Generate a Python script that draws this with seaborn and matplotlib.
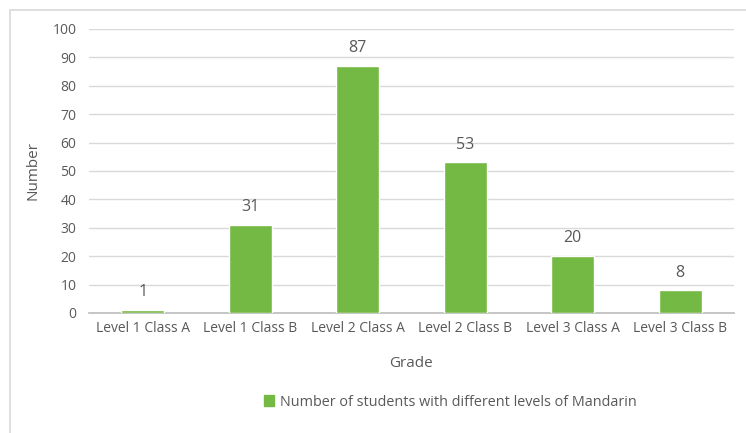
import matplotlib
matplotlib.use("Agg")
import matplotlib.pyplot as plt
import matplotlib.patches as mpatches
import seaborn as sns
import pandas as pd
import numpy as np

grades = ["Level 1 Class A", "Level 1 Class B", "Level 2 Class A",
          "Level 2 Class B", "Level 3 Class A", "Level 3 Class B"]
counts = [1, 31, 87, 53, 20, 8]
serie = "Number of students with different levels of Mandarin"

df = pd.DataFrame({"Grade": grades, "Number": counts})

sns.set_theme(style="white")
plt.rcParams['font.family'] = ['Open Sans', 'DejaVu Sans']
cinza = "#595959"
verde = "#74B944"

fig = plt.figure(figsize=(7.46, 4.33), dpi=100)
ax = fig.add_axes([89 / 746, 1 - 313 / 433, (734 - 89) / 746, (313 - 29) / 433])

sns.barplot(data=df, x="Grade", y="Number", color=verde, width=0.4,
            saturation=1, ax=ax, zorder=3)

ax.set_ylim(0, 100)
ax.set_yticks(np.arange(0, 101, 10))
ax.set_xlim(-0.5, len(grades) - 0.5)
ax.grid(axis="y", color="#D9D9D9", linewidth=1, zorder=0)
for s in ["top", "right", "left"]:
    ax.spines[s].set_visible(False)
ax.spines["bottom"].set_color("#BFBFBF")
ax.tick_params(axis="y", length=0, labelsize=10, labelcolor=cinza, pad=9)
ax.tick_params(axis="x", which="major", length=0, labelsize=10, labelcolor=cinza, pad=6)
ax.set_xticks(np.arange(-0.5, len(grades), 1), minor=True)
ax.tick_params(axis="x", which="minor", length=5, color="#BFBFBF", direction="out")

ax.bar_label(ax.containers[0], fmt="%.0f", padding=7, fontsize=11.5, color=cinza)

ax.set_xlabel("Grade", fontsize=11, color=cinza, labelpad=14)
ax.set_ylabel("Number", fontsize=11, color=cinza)
ax.yaxis.set_label_coords(-(89 - 41) / 645, 0.5)

handle = mpatches.Patch(color=verde, label=serie)
fig.legend(handles=[handle], loc="center", bbox_to_anchor=(450 / 746, 1 - 402 / 433),
           frameon=False, fontsize=10.4, labelcolor=cinza, handlelength=0.7,
           handleheight=0.7, handletextpad=0.4)

# moldura do grafico
fig.patches.append(mpatches.Rectangle((10 / 746, -0.1), 1.1, 1 - 10 / 433 + 0.1,
                                      transform=fig.transFigure, fill=False,
                                      edgecolor="#D9D9D9", linewidth=1.2))

fig.savefig("out.png", dpi=100)
